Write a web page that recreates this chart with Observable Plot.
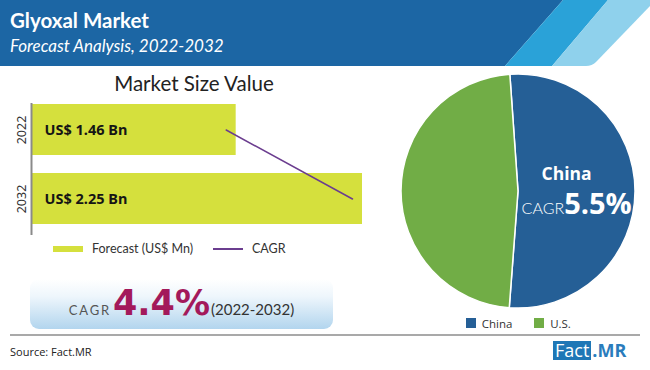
<!DOCTYPE html>
<html><head><meta charset="utf-8">
<script src="https://cdn.jsdelivr.net/npm/d3@7"></script>
<script src="https://cdn.jsdelivr.net/npm/@observablehq/plot@0.6"></script>
<style>
body{margin:0;background:#fff;}
#root{position:relative;width:650px;height:370px;overflow:hidden;font-family:"Open Sans",sans-serif;background:#fff;}
.abs{position:absolute;}
</style></head><body><div id="root"></div>
<script>
// ---- data ----
const titleText = "Glyoxal Market";
const subtitleText = "Forecast Analysis, 2022-2032";
const barTitle = "Market Size Value";
const years = ["2022", "2032"];
const marketValues = [1.46, 2.25];          // US$ Bn
const valueLabels = ["US$ 1.46 Bn", "US$ 2.25 Bn"];
const barLegend = ["Forecast (US$ Mn)", "CAGR"];
const cagrOverall = "4.4%";
const cagrPeriod = "(2022-2032)";
const regions = ["China", "U.S."];
const regionShares = [52.3, 47.7];
const highlightRegion = "China";
const highlightCagr = "5.5%";
const sourceText = "Source: Fact.MR";

const root = document.getElementById("root");

// ---- header ----
const header = d3.select(root).append("svg").attr("class","abs")
  .style("left","0px").style("top","0px").attr("width",650).attr("height",70);
header.append("path").attr("d","M0,0H563L505,66H0Z").attr("fill","#1c66a4");
header.append("path").attr("d","M563,0H608L552,66H505Z").attr("fill","#2aa2d8");
header.append("path").attr("d","M608,0H650V6L596,62Q592,66 586,66H552Z").attr("fill","#8fd1ec");
header.append("text").attr("x",10).attr("y",28).attr("fill","#fff")
  .style("font-family","Lato").style("font-weight","bold").style("font-size","20.5px").text(titleText);
header.append("text").attr("x",10).attr("y",52).attr("fill","#fff")
  .style("font-family","Lato").style("font-style","italic").style("font-size","17px").text(subtitleText);

// ---- bar chart title ----
d3.select(root).append("div").attr("class","abs")
  .style("left","0px").style("width","388px").style("top","71px").style("text-align","center")
  .style("font-family","Lato").style("font-size","20.5px").style("color","#222").text(barTitle);

// ---- bar chart ----
const barData = years.map((y, i) => ({year: y, value: marketValues[i], label: valueLabels[i]}));
const xStart = 0.18;
const bar = Plot.plot({
  width: 380, height: 145,
  marginLeft: 31, marginRight: 18, marginTop: 3, marginBottom: 10,
  style: {background: "transparent", overflow: "visible"},
  x: {domain: [xStart, 2.25], axis: null},
  y: {domain: years, paddingInner: 0.257, paddingOuter: 0.0714, align: 0.1, axis: null},
  marks: [
    Plot.barX(barData, {x1: () => xStart, x2: "value", y: "year", fill: "#d5e03d"}),
    Plot.ruleX([xStart], {stroke: "#8a8a8a", strokeWidth: 2}),
    Plot.axisY({tickSize: 0, tickRotate: -90, tickPadding: 6, fontSize: 12.5, fill: "#333", label: null}),
    Plot.text(barData, {frameAnchor: "left", y: "year", text: "label", textAnchor: "start", dx: 13,
      fontWeight: "bold", fontSize: 14.5, fill: "#151515"}),
    Plot.line(barData, {x: "value", y: "year", dx: -10, stroke: "#6b3d8f", strokeWidth: 1.5})
  ]
});
bar.classList.add("abs");
bar.style.left = "0px"; bar.style.top = "100px";
root.appendChild(bar);

// ---- bar legend ----
const bl = d3.select(root).append("svg").attr("class","abs")
  .style("left","0px").style("top","238px").attr("width",380).attr("height",22);
bl.append("rect").attr("x",53).attr("y",8).attr("width",30).attr("height",6).attr("fill","#d5e03d");
bl.append("text").attr("x",92).attr("y",15).attr("fill","#333").style("font-family","Lato").style("font-size","12.5px").text(barLegend[0]);
bl.append("line").attr("x1",213).attr("x2",243).attr("y1",11).attr("y2",11).attr("stroke","#6b3d8f").attr("stroke-width",2);
bl.append("text").attr("x",252).attr("y",15).attr("fill","#333").style("font-family","Lato").style("font-size","12.5px").text(barLegend[1]);

// ---- CAGR box ----
const box = d3.select(root).append("div").attr("class","abs")
  .style("left","30px").style("top","279px").style("width","303px").style("height","50px")
  .style("border-radius","9px")
  .style("background","linear-gradient(to bottom, #ffffff 0%, #eef6fc 35%, #b2d5ee 100%)")
  .style("display","flex").style("align-items","baseline").style("justify-content","center")
  .style("box-sizing","border-box").style("padding-top","4px");
box.append("span").style("font-family","Lato").style("font-size","13px").style("letter-spacing","1.8px")
  .style("color","#555").style("margin-right","2px").text("CAGR");
box.append("span").style("font-family","DejaVu Sans").style("font-weight","bold").style("font-size","35px")
  .style("color","#a3195b").text(cagrOverall);
box.append("span").style("font-family","Lato").style("font-size","15px").style("color","#333")
  .style("margin-left","1px").text(cagrPeriod);

// ---- pie ----
const pieData = regions.map((r, i) => ({region: r, share: regionShares[i]}));
const colorOpts = {type: "ordinal", domain: regions, range: ["#255f96", "#71ad46"]};
const colorScale = Plot.scale({color: colorOpts});
const startAngle = -4 * Math.PI / 180;
const pie = Plot.plot({
  width: 270, height: 246, margin: 0,
  style: {background: "transparent", overflow: "visible"},
  marks: [
    (index, scales, values, dims) => {
      const g = d3.create("svg:g");
      const r = 117, cx = dims.width / 2, cy = dims.height / 2;
      const arcs = d3.pie().sort(null).value(d => d.share)
        .startAngle(startAngle).endAngle(startAngle + 2 * Math.PI)(pieData);
      const arc = d3.arc().innerRadius(0).outerRadius(r);
      const gg = g.append("g").attr("transform", `translate(${cx},${cy})`);
      gg.selectAll("path").data(arcs).join("path")
        .attr("d", arc).attr("fill", d => colorScale.apply(d.data.region))
        .attr("stroke", "#fff").attr("stroke-width", 1.5);
      const hi = arcs.find(d => d.data.region === highlightRegion);
      const [lx, ly] = d3.arc().innerRadius(0).outerRadius(r * 0.9).centroid(hi);
      gg.append("text").attr("x", lx - 4).attr("y", ly - 11).attr("text-anchor", "middle")
        .attr("fill", "#fff").style("font-family", "Open Sans").style("font-weight", "bold")
        .style("font-size", "17.5px").text(hi.data.region);
      const t2 = gg.append("text").attr("x", lx + 6).attr("y", ly + 23).attr("text-anchor", "middle").attr("fill", "#fff");
      t2.append("tspan").style("font-family", "Lato").style("font-weight", "300").style("font-size", "16px").text("CAGR");
      t2.append("tspan").style("font-family", "Open Sans").style("font-weight", "bold").style("font-size", "29px").text(highlightCagr);
      return g.node();
    }
  ]
});
pie.classList.add("abs");
pie.style.left = "383px"; pie.style.top = "68px";
root.appendChild(pie);

// pie legend
const leg = Plot.legend({color: colorOpts, legend: "swatches", swatchSize: 10,
  style: {fontFamily: "Open Sans", fontSize: "11.5px", color: "#333"}});
d3.select(leg).style("min-height", "16px").style("margin", "0");
d3.select(leg).selectAll(":scope > span").style("margin-right", "22px");
const legWrap = d3.select(root).append("div").attr("class","abs")
  .style("left","466px").style("top","315px");
legWrap.node().appendChild(leg);

// ---- footer ----
d3.select(root).append("div").attr("class","abs")
  .style("left","10px").style("top","334px").style("width","630px").style("height","2px").style("background","#a9a9a9");
d3.select(root).append("div").attr("class","abs")
  .style("left","10px").style("top","344px").style("font-family","Open Sans").style("font-size","11px").style("color","#222")
  .text(sourceText);
const logo = d3.select(root).append("div").attr("class","abs")
  .style("left","553px").style("top","341px").style("font-family","Open Sans").style("font-size","18px")
  .style("line-height","19px").style("display","flex");
logo.append("span").style("background","#1f77b6").style("color","#fff").style("padding","0 2px").text("Fact");
logo.append("span").style("color","#2a7cbc").style("font-weight","bold").style("margin-left","1px").text(".MR");
</script></body></html>
